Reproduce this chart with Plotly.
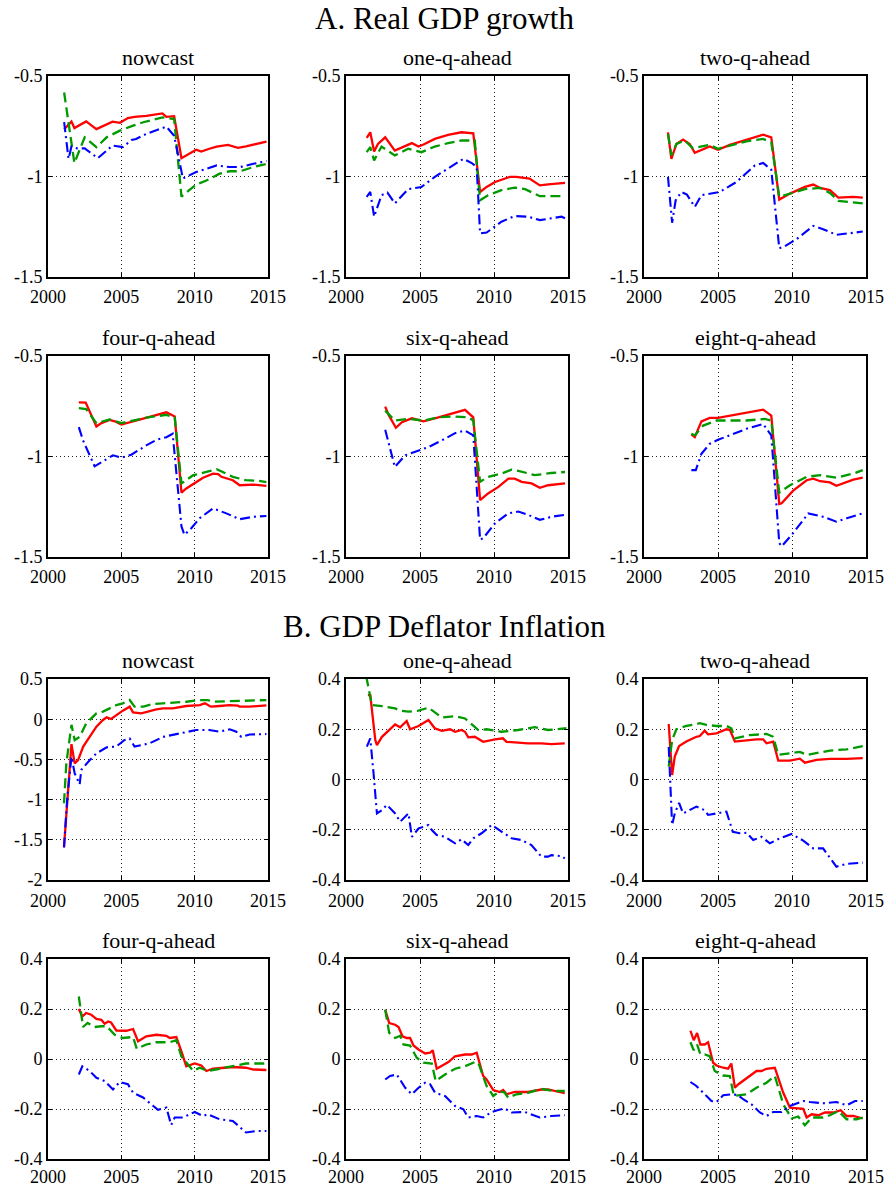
import plotly.graph_objects as go

# ---------------- data ----------------
# Panel A: Real GDP growth
A_nowcast_red = [(2001.1,-0.765),(2001.6,-0.727),(2001.8,-0.759),(2002.6,-0.726),(2003.3,-0.764),(2004.0,-0.742),(2004.4,-0.727),(2004.9,-0.733),(2005.45,-0.709),(2005.9,-0.703),(2006.7,-0.698),(2007.8,-0.686),(2008.07,-0.703),(2008.6,-0.70),(2009.1,-0.909),(2010.1,-0.867),(2010.45,-0.876),(2011.0,-0.862),(2011.5,-0.851),(2012.27,-0.843),(2012.95,-0.857),(2013.5,-0.85),(2014.0,-0.842),(2014.9,-0.826)]
A_nowcast_green = [(2001.1,-0.582),(2001.8,-0.933),(2002.5,-0.805),(2003.3,-0.854),(2004.0,-0.805),(2004.9,-0.772),(2005.8,-0.747),(2006.5,-0.73),(2007.8,-0.706),(2008.6,-0.714),(2009.1,-1.10),(2010.1,-1.04),(2010.8,-1.02),(2011.7,-0.986),(2012.4,-0.974),(2013.1,-0.974),(2014.0,-0.953),(2014.9,-0.937)]
A_nowcast_blue = [(2001.1,-0.73),(2001.4,-0.912),(2001.6,-0.851),(2002.0,-0.86),(2002.5,-0.86),(2003.4,-0.909),(2004.4,-0.846),(2005.1,-0.854),(2005.7,-0.818),(2006.0,-0.813),(2006.7,-0.788),(2008.07,-0.752),(2008.6,-0.797),(2009.1,-0.986),(2009.2,-1.01),(2010.1,-0.978),(2010.8,-0.961),(2011.5,-0.945),(2012.4,-0.953),(2013.1,-0.953),(2014.0,-0.937),(2014.9,-0.923)]

A_one_red = [(2001.4,-0.808),(2001.64,-0.78),(2001.9,-0.876),(2002.16,-0.838),(2002.65,-0.805),(2003.3,-0.871),(2004.45,-0.834),(2004.9,-0.851),(2005.24,-0.841),(2006.0,-0.813),(2006.9,-0.793),(2007.8,-0.78),(2008.6,-0.785),(2009.06,-1.077),(2009.5,-1.052),(2010.07,-1.027),(2011.08,-1.002),(2011.5,-1.002),(2012.4,-1.01),(2013.1,-1.044),(2013.66,-1.039),(2014.8,-1.032)]
A_one_green = [(2001.4,-0.879),(2001.64,-0.854),(2001.9,-0.92),(2002.4,-0.851),(2003.3,-0.895),(2004.2,-0.862),(2005.1,-0.879),(2006.0,-0.851),(2006.9,-0.834),(2007.8,-0.821),(2008.7,-0.821),(2009.06,-1.118),(2009.6,-1.093),(2010.5,-1.068),(2011.4,-1.055),(2012.1,-1.063),(2013.1,-1.098),(2014.56,-1.098),(2014.8,-1.098)]
A_one_blue = [(2001.4,-1.101),(2001.64,-1.077),(2001.9,-1.20),(2002.4,-1.093),(2002.8,-1.08),(2003.3,-1.134),(2004.2,-1.063),(2005.1,-1.052),(2006.0,-1.002),(2006.9,-0.961),(2007.93,-0.912),(2008.5,-0.933),(2008.83,-0.953),(2009.06,-1.283),(2009.5,-1.279),(2010.5,-1.225),(2011.4,-1.197),(2012.3,-1.20),(2013.1,-1.217),(2014.56,-1.20),(2014.8,-1.208)]

A_two_red = [(2001.62,-0.78),(2001.85,-0.912),(2002.19,-0.838),(2002.64,-0.816),(2003.09,-0.838),(2003.43,-0.882),(2004.44,-0.851),(2005.0,-0.867),(2005.8,-0.843),(2006.93,-0.816),(2008.05,-0.792),(2008.6,-0.805),(2009.14,-1.115),(2009.86,-1.085),(2010.87,-1.052),(2011.44,-1.04),(2011.9,-1.057),(2012.56,-1.068),(2013.13,-1.105),(2014.14,-1.101),(2014.78,-1.105)]
A_two_green = [(2001.62,-0.788),(2001.85,-0.895),(2002.19,-0.838),(2002.75,-0.821),(2003.3,-0.859),(2004.44,-0.843),(2005.0,-0.862),(2005.8,-0.846),(2006.93,-0.825),(2008.05,-0.813),(2008.6,-0.83),(2009.14,-1.101),(2009.86,-1.085),(2010.87,-1.063),(2011.9,-1.057),(2012.56,-1.082),(2013.13,-1.121),(2014.14,-1.129),(2014.78,-1.134)]
A_two_blue = [(2001.62,-1.002),(2001.9,-1.23),(2002.14,-1.118),(2002.53,-1.077),(2002.9,-1.09),(2003.43,-1.151),(2003.88,-1.093),(2005.12,-1.077),(2006.25,-1.027),(2007.49,-0.945),(2008.05,-0.933),(2008.6,-0.966),(2009.14,-1.357),(2009.5,-1.348),(2010.3,-1.312),(2011.44,-1.246),(2012.1,-1.262),(2013.0,-1.29),(2014.14,-1.28),(2014.78,-1.274)]

A_four_red = [(2002.1,-0.731),(2002.57,-0.732),(2003.3,-0.851),(2003.64,-0.834),(2004.2,-0.818),(2004.55,-0.825),(2005.0,-0.841),(2005.8,-0.826),(2006.82,-0.805),(2008.07,-0.78),(2008.64,-0.801),(2009.1,-1.18),(2009.43,-1.159),(2010.57,-1.106),(2011.25,-1.085),(2011.6,-1.088),(2011.82,-1.101),(2012.6,-1.118),(2013.07,-1.143),(2014.0,-1.14),(2014.89,-1.146)]
A_four_green = [(2002.1,-0.759),(2002.6,-0.764),(2003.3,-0.834),(2004.2,-0.816),(2005.0,-0.834),(2005.8,-0.821),(2006.82,-0.805),(2008.07,-0.793),(2008.64,-0.805),(2009.1,-1.134),(2009.9,-1.093),(2010.8,-1.077),(2011.5,-1.063),(2012.6,-1.101),(2013.5,-1.118),(2014.4,-1.121),(2014.89,-1.128)]
A_four_blue = [(2002.1,-0.854),(2002.39,-0.92),(2003.18,-1.049),(2003.5,-1.035),(2004.43,-0.994),(2005.0,-1.006),(2005.68,-0.991),(2006.7,-0.945),(2007.4,-0.917),(2008.07,-0.904),(2008.5,-0.887),(2009.1,-1.348),(2009.3,-1.39),(2009.77,-1.357),(2010.34,-1.307),(2011.25,-1.258),(2012.16,-1.283),(2013.07,-1.312),(2014.0,-1.30),(2014.89,-1.296)]

A_six_red = [(2002.65,-0.752),(2002.88,-0.793),(2003.37,-0.857),(2003.78,-0.829),(2004.45,-0.81),(2005.24,-0.825),(2006.25,-0.805),(2007.15,-0.788),(2008.04,-0.768),(2008.6,-0.805),(2009.06,-1.217),(2009.6,-1.184),(2010.3,-1.151),(2010.97,-1.11),(2011.4,-1.11),(2011.87,-1.126),(2012.54,-1.134),(2013.1,-1.156),(2013.66,-1.143),(2014.8,-1.134)]
A_six_green = [(2002.65,-0.772),(2003.3,-0.821),(2004.2,-0.813),(2005.24,-0.821),(2006.25,-0.805),(2007.37,-0.801),(2008.27,-0.805),(2008.6,-0.821),(2009.06,-1.126),(2009.6,-1.101),(2010.5,-1.085),(2011.19,-1.065),(2011.64,-1.071),(2012.76,-1.093),(2013.88,-1.082),(2014.8,-1.077)]
A_six_blue = [(2002.65,-0.867),(2003.3,-1.052),(2004.0,-0.994),(2004.9,-0.97),(2005.57,-0.953),(2006.47,-0.92),(2007.37,-0.884),(2008.04,-0.871),(2008.6,-0.895),(2009.06,-1.414),(2009.28,-1.406),(2010.07,-1.332),(2010.97,-1.283),(2011.64,-1.274),(2012.3,-1.29),(2013.1,-1.315),(2013.88,-1.30),(2014.8,-1.29)]

A_eight_red = [(2003.2,-0.89),(2003.43,-0.904),(2003.88,-0.825),(2004.44,-0.808),(2005.0,-0.808),(2005.8,-0.797),(2006.7,-0.788),(2007.38,-0.777),(2008.05,-0.767),(2008.6,-0.797),(2009.14,-1.236),(2009.3,-1.233),(2010.08,-1.17),(2010.99,-1.118),(2011.44,-1.11),(2011.9,-1.123),(2012.56,-1.129),(2013.0,-1.146),(2013.47,-1.134),(2014.14,-1.115),(2014.78,-1.105)]
A_eight_green = [(2003.2,-0.887),(2003.43,-0.895),(2004.0,-0.846),(2004.9,-0.821),(2005.8,-0.821),(2006.93,-0.821),(2008.17,-0.813),(2008.6,-0.821),(2009.14,-1.18),(2009.86,-1.143),(2010.99,-1.101),(2011.9,-1.093),(2013.0,-1.105),(2014.14,-1.085),(2014.78,-1.068)]
A_eight_blue = [(2003.2,-1.068),(2003.5,-1.068),(2003.88,-0.987),(2004.44,-0.937),(2005.0,-0.917),(2006.0,-0.887),(2006.93,-0.862),(2008.05,-0.838),(2008.6,-0.895),(2009.14,-1.431),(2009.3,-1.447),(2010.08,-1.381),(2011.1,-1.283),(2012.1,-1.30),(2013.0,-1.324),(2013.7,-1.307),(2014.78,-1.283)]

# Panel B: GDP Deflator Inflation
B_nowcast_red = [(2001.09,-1.595),(2001.36,-0.88),(2001.6,-0.31),(2001.82,-0.55),(2002.05,-0.51),(2002.4,-0.34),(2002.84,-0.22),(2003.3,-0.093),(2003.75,-0.01),(2004.0,0.023),(2004.3,0.003),(2004.66,0.052),(2005.1,0.106),(2005.57,0.156),(2005.8,0.085),(2006.36,0.073),(2006.93,0.102),(2007.39,0.123),(2007.84,0.135),(2008.5,0.135),(2009.43,0.164),(2010.34,0.176),(2010.7,0.197),(2011.1,0.156),(2011.7,0.164),(2012.39,0.176),(2012.95,0.168),(2013.07,0.156),(2013.75,0.156),(2014.89,0.172)]
B_nowcast_green = [(2001.09,-1.045),(2001.25,-0.55),(2001.6,-0.07),(2001.82,-0.26),(2002.16,-0.22),(2002.6,-0.052),(2003.3,0.073),(2003.75,0.094),(2004.66,0.176),(2005.1,0.197),(2005.57,0.238),(2005.9,0.156),(2006.5,0.156),(2007.16,0.189),(2007.84,0.197),(2008.75,0.205),(2009.43,0.217),(2010.34,0.238),(2010.9,0.238),(2011.25,0.217),(2012.6,0.226),(2013.98,0.226),(2014.89,0.238)]
B_nowcast_blue = [(2001.09,-1.595),(2001.32,-0.965),(2001.6,-0.468),(2001.82,-0.674),(2002.16,-0.81),(2002.27,-0.63),(2002.84,-0.51),(2003.3,-0.425),(2004.0,-0.35),(2004.66,-0.34),(2005.2,-0.26),(2005.57,-0.24),(2005.9,-0.34),(2006.93,-0.30),(2007.84,-0.22),(2008.98,-0.176),(2010.1,-0.135),(2011.0,-0.135),(2011.7,-0.155),(2012.39,-0.126),(2012.84,-0.155),(2013.18,-0.22),(2013.75,-0.19),(2014.89,-0.185)]

B_one_red = [(2001.48,0.336),(2001.64,0.336),(2001.98,0.157),(2002.09,0.137),(2002.43,0.17),(2002.87,0.194),(2003.32,0.219),(2003.66,0.208),(2004.1,0.233),(2004.33,0.20),(2004.9,0.213),(2005.57,0.237),(2006.0,0.204),(2006.47,0.194),(2007.03,0.20),(2007.37,0.19),(2007.8,0.197),(2008.04,0.19),(2008.26,0.168),(2008.7,0.17),(2009.27,0.15),(2010.07,0.16),(2010.6,0.164),(2010.85,0.15),(2011.86,0.144),(2012.3,0.144),(2013.2,0.144),(2013.88,0.141),(2014.78,0.144)]
B_one_green = [(2001.37,0.41),(2001.75,0.296),(2002.43,0.292),(2003.32,0.283),(2003.66,0.274),(2004.22,0.27),(2004.9,0.274),(2005.57,0.286),(2006.47,0.247),(2007.37,0.252),(2008.04,0.243),(2008.94,0.197),(2009.5,0.20),(2010.5,0.19),(2011.63,0.197),(2012.75,0.208),(2013.65,0.197),(2014.55,0.20),(2014.89,0.204)]
B_one_blue = [(2001.41,0.131),(2001.64,0.164),(2001.86,0.025),(2002.09,-0.135),(2002.43,-0.122),(2002.76,-0.101),(2003.32,-0.135),(2003.66,-0.168),(2004.22,-0.135),(2004.45,-0.228),(2004.9,-0.195),(2005.57,-0.181),(2005.8,-0.201),(2006.13,-0.221),(2006.69,-0.228),(2007.37,-0.254),(2007.8,-0.238),(2008.26,-0.261),(2008.6,-0.234),(2009.16,-0.214),(2009.84,-0.181),(2010.5,-0.208),(2011.19,-0.234),(2011.86,-0.241),(2012.53,-0.261),(2013.2,-0.307),(2013.65,-0.307),(2013.88,-0.301),(2014.55,-0.305),(2014.78,-0.314)]

B_two_red = [(2001.67,0.221),(2001.9,0.018),(2002.08,0.091),(2002.37,0.133),(2002.86,0.151),(2003.54,0.17),(2003.77,0.173),(2004.1,0.194),(2004.33,0.18),(2004.9,0.184),(2005.57,0.20),(2005.8,0.198),(2006.14,0.151),(2006.93,0.157),(2007.6,0.16),(2008.05,0.16),(2008.28,0.144),(2008.73,0.151),(2009.07,0.075),(2009.86,0.075),(2010.53,0.083),(2010.87,0.067),(2011.66,0.078),(2012.56,0.082),(2013.69,0.082),(2014.78,0.085)]
B_two_green = [(2001.67,0.051),(2001.9,0.157),(2002.19,0.20),(2002.86,0.213),(2003.77,0.224),(2004.22,0.217),(2004.9,0.213),(2005.57,0.213),(2005.9,0.204),(2006.14,0.164),(2007.15,0.177),(2008.28,0.181),(2008.73,0.17),(2009.07,0.098),(2009.86,0.104),(2010.53,0.11),(2011.0,0.098),(2011.9,0.107),(2012.56,0.115),(2013.69,0.12),(2014.78,0.133)]
B_two_blue = [(2001.67,0.13),(2001.9,-0.181),(2002.08,-0.135),(2002.37,-0.093),(2002.64,-0.135),(2003.54,-0.108),(2004.1,-0.122),(2004.33,-0.141),(2004.9,-0.135),(2005.57,-0.128),(2006.0,-0.208),(2006.47,-0.214),(2006.93,-0.212),(2007.38,-0.241),(2007.94,-0.228),(2008.5,-0.254),(2009.18,-0.234),(2009.97,-0.217),(2010.76,-0.243),(2011.44,-0.274),(2012.1,-0.274),(2013.0,-0.347),(2013.69,-0.336),(2014.78,-0.331)]

B_four_red = [(2002.1,0.20),(2002.34,0.17),(2002.6,0.184),(2002.95,0.177),(2003.3,0.16),(2003.64,0.157),(2003.86,0.141),(2004.1,0.15),(2004.3,0.146),(2004.66,0.114),(2005.34,0.113),(2005.8,0.12),(2006.14,0.071),(2006.7,0.091),(2007.39,0.097),(2008.07,0.093),(2008.3,0.084),(2008.75,0.088),(2009.09,0.031),(2009.43,-0.029),(2010.0,-0.018),(2010.45,-0.026),(2010.8,-0.048),(2011.25,-0.039),(2012.6,-0.032),(2013.5,-0.035),(2014.0,-0.042),(2014.89,-0.044)]
B_four_green = [(2002.1,0.25),(2002.39,0.128),(2002.7,0.144),(2003.18,0.128),(2003.64,0.131),(2004.0,0.131),(2004.55,0.097),(2005.1,0.084),(2005.8,0.088),(2006.05,0.041),(2006.7,0.058),(2007.39,0.067),(2008.3,0.067),(2008.75,0.075),(2009.09,0.011),(2009.9,-0.048),(2010.34,-0.035),(2010.9,-0.048),(2011.7,-0.039),(2012.6,-0.029),(2013.5,-0.018),(2014.89,-0.018)]
B_four_blue = [(2002.1,-0.062),(2002.34,-0.029),(2002.84,-0.048),(2003.3,-0.075),(2003.86,-0.088),(2004.43,-0.122),(2004.89,-0.092),(2005.45,-0.101),(2005.8,-0.135),(2006.48,-0.154),(2007.16,-0.187),(2007.5,-0.203),(2008.07,-0.194),(2008.4,-0.264),(2008.64,-0.234),(2009.2,-0.234),(2010.0,-0.212),(2010.57,-0.228),(2010.9,-0.221),(2011.7,-0.241),(2012.6,-0.248),(2013.07,-0.274),(2013.5,-0.294),(2014.2,-0.288),(2014.89,-0.288)]

B_six_red = [(2002.65,0.197),(2002.92,0.144),(2003.32,0.137),(2003.55,0.128),(2003.82,0.091),(2004.1,0.084),(2004.33,0.084),(2004.56,0.054),(2004.9,0.038),(2005.35,0.022),(2005.68,0.025),(2005.86,0.035),(2006.13,-0.039),(2006.58,-0.022),(2006.92,-0.012),(2007.37,0.011),(2007.7,0.014),(2008.04,0.018),(2008.49,0.018),(2008.83,0.025),(2009.27,-0.068),(2009.5,-0.082),(2009.95,-0.124),(2010.4,-0.132),(2010.62,-0.124),(2010.85,-0.141),(2011.4,-0.132),(2012.3,-0.132),(2013.2,-0.122),(2013.65,-0.122),(2014.78,-0.137)]
B_six_green = [(2002.65,0.197),(2002.92,0.104),(2003.32,0.084),(2003.66,0.093),(2003.88,0.058),(2004.33,0.054),(2004.78,0.005),(2005.23,-0.015),(2005.8,-0.018),(2006.06,-0.088),(2006.69,-0.062),(2007.37,-0.039),(2008.04,-0.029),(2008.71,-0.012),(2008.94,-0.015),(2009.5,-0.108),(2009.95,-0.148),(2010.4,-0.128),(2010.73,-0.135),(2010.96,-0.155),(2011.52,-0.141),(2012.3,-0.135),(2013.2,-0.119),(2013.99,-0.128),(2014.78,-0.128)]
B_six_blue = [(2002.65,-0.082),(2002.98,-0.068),(2003.43,-0.062),(2004.0,-0.115),(2004.45,-0.141),(2004.9,-0.115),(2005.35,-0.095),(2005.68,-0.101),(2006.02,-0.135),(2006.69,-0.148),(2007.37,-0.188),(2007.93,-0.201),(2008.26,-0.234),(2008.83,-0.228),(2009.27,-0.234),(2009.84,-0.212),(2010.29,-0.204),(2010.73,-0.198),(2011.19,-0.214),(2012.08,-0.212),(2013.09,-0.234),(2013.88,-0.228),(2014.78,-0.225)]

B_eight_red = [(2003.14,0.113),(2003.36,0.075),(2003.59,0.104),(2003.81,0.058),(2004.1,0.058),(2004.33,0.067),(2004.67,-0.015),(2004.9,-0.026),(2005.35,-0.035),(2005.68,-0.039),(2005.9,-0.018),(2006.14,-0.115),(2006.36,-0.102),(2006.7,-0.088),(2007.15,-0.068),(2007.6,-0.048),(2007.94,-0.048),(2008.28,-0.039),(2008.84,-0.035),(2009.41,-0.135),(2009.86,-0.195),(2010.42,-0.199),(2010.76,-0.199),(2010.99,-0.234),(2011.33,-0.221),(2011.78,-0.225),(2012.23,-0.214),(2012.79,-0.214),(2013.29,-0.205),(2013.69,-0.228),(2014.14,-0.228),(2014.78,-0.238)]
B_eight_green = [(2003.14,0.067),(2003.36,0.035),(2003.59,0.058),(2003.81,0.018),(2004.1,0.018),(2004.44,0.011),(2004.78,-0.048),(2005.35,-0.066),(2005.8,-0.068),(2006.07,-0.148),(2006.93,-0.141),(2007.6,-0.115),(2008.28,-0.095),(2008.84,-0.068),(2009.41,-0.181),(2009.97,-0.238),(2010.42,-0.23),(2010.87,-0.265),(2011.33,-0.234),(2012.1,-0.234),(2012.56,-0.225),(2013.13,-0.208),(2013.69,-0.241),(2014.37,-0.241),(2014.78,-0.234)]
B_eight_blue = [(2003.14,-0.092),(2003.54,-0.108),(2004.0,-0.135),(2004.56,-0.168),(2004.9,-0.172),(2005.35,-0.145),(2006.0,-0.141),(2006.36,-0.145),(2006.7,-0.161),(2007.26,-0.181),(2007.83,-0.214),(2008.28,-0.228),(2008.73,-0.212),(2009.3,-0.212),(2009.86,-0.188),(2010.31,-0.177),(2010.76,-0.168),(2011.2,-0.172),(2012.1,-0.177),(2013.0,-0.172),(2013.69,-0.185),(2014.26,-0.168),(2014.78,-0.168)]

panel_titles = ["nowcast", "one-q-ahead", "two-q-ahead", "four-q-ahead", "six-q-ahead", "eight-q-ahead"]
section_titles = ["A. Real GDP growth", "B. GDP Deflator Inflation"]
x_ticks = [2000, 2005, 2010, 2015]
x_ticktext = ["2000", "2005", "2010", "2015"]
A_yticks = [-1.5, -1.0, -0.5]
A_yticktext = ["-1.5", "-1", "-0.5"]
B_now_yticks = [-2.0, -1.5, -1.0, -0.5, 0.0, 0.5]
B_now_yticktext = ["-2", "-1.5", "-1", "-0.5", "0", "0.5"]
B_yticks = [-0.4, -0.2, 0.0, 0.2, 0.4]
B_yticktext = ["-0.4", "-0.2", "0", "0.2", "0.4"]

panels = [
    (A_nowcast_red, A_nowcast_green, A_nowcast_blue),
    (A_one_red, A_one_green, A_one_blue),
    (A_two_red, A_two_green, A_two_blue),
    (A_four_red, A_four_green, A_four_blue),
    (A_six_red, A_six_green, A_six_blue),
    (A_eight_red, A_eight_green, A_eight_blue),
    (B_nowcast_red, B_nowcast_green, B_nowcast_blue),
    (B_one_red, B_one_green, B_one_blue),
    (B_two_red, B_two_green, B_two_blue),
    (B_four_red, B_four_green, B_four_blue),
    (B_six_red, B_six_green, B_six_blue),
    (B_eight_red, B_eight_green, B_eight_blue),
]

# ---------------- layout geometry ----------------
W, H = 888, 1187
FONT = "'Liberation Serif', 'Times New Roman', serif"
col_px = [(48, 268), (346, 568), (644, 866)]
row_px = [(76, 277), (356, 557), (679, 880), (959, 1159)]
row_standoff = [2, 2, 3, 0]
subtitle_y = [57, 337, 660, 940]
section_y = [18, 626]

styles = [
    dict(color="#ff0000", width=2.3, dash="solid"),
    dict(color="#009a00", width=2.3, dash="10px,5px"),
    dict(color="#0000ff", width=2.1, dash="10px,4px,2px,4px"),
]

fig = go.Figure()
layout = dict(
    width=W, height=H, autosize=False,
    margin=dict(l=0, r=0, t=0, b=0, pad=0, autoexpand=False),
    paper_bgcolor="white", plot_bgcolor="white",
    showlegend=False,
    font=dict(family=FONT, color="black"),
)
annotations = []

for i, series in enumerate(panels):
    r, c = divmod(i, 3)
    k = i + 1
    xa = "xaxis" if k == 1 else f"xaxis{k}"
    ya = "yaxis" if k == 1 else f"yaxis{k}"
    xr = "x" if k == 1 else f"x{k}"
    yr = "y" if k == 1 else f"y{k}"
    for s, st in zip(series, styles):
        fig.add_trace(go.Scatter(
            x=[p[0] for p in s], y=[p[1] for p in s],
            mode="lines", line=st, xaxis=xr, yaxis=yr, hoverinfo="skip"))
    x0, x1 = col_px[c]
    t, b = row_px[r]
    if i < 6:
        yt, ytt, yrng = A_yticks, A_yticktext, [-1.5, -0.5]
    elif i == 6:
        yt, ytt, yrng = B_now_yticks, B_now_yticktext, [-2, 0.5]
    else:
        yt, ytt, yrng = B_yticks, B_yticktext, [-0.4, 0.4]
    common = dict(
        showline=True, linecolor="black", linewidth=1.8, mirror="ticks",
        ticks="inside", ticklen=4, tickwidth=1, tickcolor="black",
        showgrid=True, gridcolor="#222222", gridwidth=1, griddash="1px,3px",
        zeroline=False, tickfont=dict(family=FONT, size=18, color="black"),
        fixedrange=True, automargin=False,
    )
    layout[xa] = dict(common, domain=[x0 / W, x1 / W], range=[2000, 2015],
                      tickmode="array", tickvals=x_ticks, ticktext=x_ticktext,
                      anchor=yr, ticklabelstandoff=row_standoff[r])
    layout[ya] = dict(common, domain=[1 - b / H, 1 - t / H], range=yrng,
                      tickmode="array", tickvals=yt, ticktext=ytt,
                      anchor=xr)
    annotations.append(dict(
        text=panel_titles[i % 6], x=(x0 + x1) / 2 / W, y=1 - subtitle_y[r] / H,
        xref="paper", yref="paper", xanchor="center", yanchor="middle",
        showarrow=False, font=dict(family=FONT, size=22, color="black")))

for j, txt in enumerate(section_titles):
    annotations.append(dict(
        text=txt, x=0.5, y=1 - section_y[j] / H, xref="paper", yref="paper",
        xanchor="center", yanchor="middle", showarrow=False,
        font=dict(family=FONT, size=31, color="black")))

layout["annotations"] = annotations
fig.update_layout(**layout)
fig.write_html(
    "out.html",
    post_script="document.body.style.margin='0';document.body.style.padding='0';document.body.style.overflow='hidden';",
)
